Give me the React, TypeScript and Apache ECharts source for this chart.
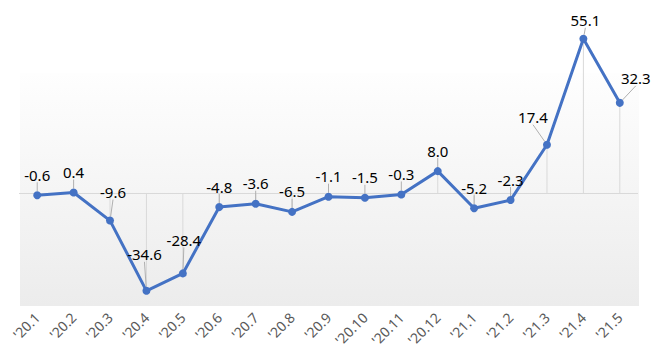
import React, { useEffect, useRef } from "react";
import * as echarts from "echarts";

const categories = ["'20.1", "'20.2", "'20.3", "'20.4", "'20.5", "'20.6", "'20.7", "'20.8", "'20.9", "'20.10", "'20.11", "'20.12", "'21.1", "'21.2", "'21.3", "'21.4", "'21.5"];
const values = [-0.6, 0.4, -9.6, -34.6, -28.4, -4.8, -3.6, -6.5, -1.1, -1.5, -0.3, 8.0, -5.2, -2.3, 17.4, 55.1, 32.3];

// label nudges (layout only), keyed by category index
const labelShift: Record<number, [number, number]> = {
  2: [3, -8],
  3: [-2, -16],
  4: [1, -13],
  14: [-14, -7],
  15: [2, 2],
  16: [16, -4],
};

export default function App() {
  const ref = useRef<HTMLDivElement>(null);
  useEffect(() => {
    if (!ref.current) return;
    const chart = echarts.init(ref.current, undefined, { renderer: "svg" });
    chart.setOption({
      animation: false,
      graphic: [
        {
          type: "rect",
          z: -10,
          silent: true,
          shape: { x: 20, y: 73, width: 619, height: 233 },
          style: {
            fill: new echarts.graphic.LinearGradient(0, 0, 0, 1, [
              { offset: 0, color: "#fefefe" },
              { offset: 1, color: "#ececec" },
            ]),
          },
        },
      ],
      grid: { left: 19, right: 30, top: 25, bottom: 53, containLabel: false },
      xAxis: {
        type: "category",
        data: categories,
        axisLine: { show: false },
        axisTick: { show: false },
        axisLabel: {
          rotate: 45,
          color: "#595959",
          fontFamily: "Noto Sans",
          fontSize: 14,
          margin: 9,
          interval: 0,
        },
      },
      yAxis: {
        type: "value",
        min: -40,
        max: 60,
        show: false,
        splitLine: { show: false },
      },
      series: [
        {
          type: "bar",
          data: values,
          barWidth: 1,
          itemStyle: { color: "#d9d9d9" },
          z: 1,
          silent: true,
          markLine: {
            z: 1,
            silent: true,
            symbol: "none",
            label: { show: false },
            lineStyle: { color: "#d9d9d9", width: 1, type: "solid" },
            data: [{ yAxis: 0 }],
          },
        },
        {
          type: "line",
          data: values,
          z: 3,
          symbol: "circle",
          symbolSize: 8,
          lineStyle: { color: "#4472C4", width: 3 },
          itemStyle: { color: "#4472C4" },
          label: {
            show: true,
            position: "top",
            distance: 9,
            color: "#000",
            fontFamily: "Noto Sans",
            fontSize: 15,
            formatter: (p: any) => (p.value as number).toFixed(1),
          },
          labelLine: { show: true, lineStyle: { color: "#b0b0b0", width: 1 } },
          labelLayout: (p: any) => {
            const s = labelShift[p.dataIndex];
            if (!s) return {};
            return { dx: s[0], dy: s[1] };
          },
        },
      ],
    });
    return () => chart.dispose();
  }, []);
  return <div ref={ref} style={{ width: 668, height: 359, position: "absolute", left: 0, top: 0 }} />;
}
